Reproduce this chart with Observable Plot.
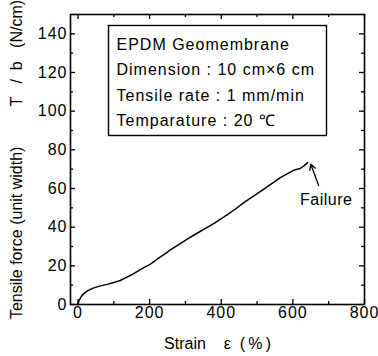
<!DOCTYPE html>
<html><head><meta charset="utf-8">
<script src="https://cdn.jsdelivr.net/npm/d3@7"></script>
<script src="https://cdn.jsdelivr.net/npm/@observablehq/plot@0.6"></script>
<style>
body{margin:0;background:#fff;}
#chart svg{font-family:"Liberation Sans",Arial,sans-serif;}
</style></head><body><div id="chart"></div>
<script>
const strain = [0, 3, 7, 11, 18, 25, 35, 44, 60, 81, 100, 118, 135, 151, 175, 202, 225, 248, 258, 280, 304, 330, 351, 380, 411, 440, 462, 490, 518, 545, 565, 585, 602, 620, 630, 641];
const force  = [0, 2.2, 3.4, 4.6, 5.9, 6.9, 7.8, 8.6, 9.5, 10.4, 11.4, 12.4, 14.0, 15.5, 18.2, 20.9, 24.0, 26.8, 28.3, 30.9, 33.7, 36.6, 38.9, 42.0, 45.7, 49.4, 52.6, 56.0, 59.6, 63.0, 65.6, 67.7, 69.4, 70.3, 71.6, 73.4];
const xMajor = [0, 200, 400, 600, 800];
const xMinor = [100, 300, 500, 700];
const yMajor = [0, 20, 40, 60, 80, 100, 120, 140];
const yMinor = [10, 30, 50, 70, 90, 110, 130];
const boxLines = ["EPDM Geomembrane", "Dimension : 10 cm\u00d76 cm", "Tensile rate : 1 mm/min", "Temparature : 20 \u2103"];
const failureLabel = "Failure";
const nb = n => "\u00a0".repeat(n);
const xLabel = "Strain" + nb(4) + "\u03b5" + nb(2) + "(\u2009%\u2009)";
const yLabel = "Tensile force (unit width)" + nb(9) + "T" + nb(3) + "/" + nb(2) + "b" + nb(3) + "(N/cm)";

const curve = strain.map((s, i) => ({strain: s, force: force[i]}));

const W = 378, H = 356, ML = 70, MR = 14, MT = 14, MB = 52;
const xDomain = [-21, 800], yDomain = [0, 150];
const fw = W - ML - MR, fh = H - MT - MB;
// tick lengths given in pixels, converted to data units of each scale
const dxPx = px => px * (xDomain[1] - xDomain[0]) / fw;
const dyPx = px => px * (yDomain[1] - yDomain[0]) / fh;
const tickStyle = {stroke: "#000", strokeWidth: 1.3};
const xTicks = (vals, len) => [
  Plot.ruleX(vals, {x: d => d, y1: yDomain[0], y2: yDomain[0] + dyPx(len), ...tickStyle}),
  Plot.ruleX(vals, {x: d => d, y1: yDomain[1], y2: yDomain[1] - dyPx(len), ...tickStyle})
];
const yTicks = (vals, len) => [
  Plot.ruleY(vals, {y: d => d, x1: xDomain[0], x2: xDomain[0] + dxPx(len), ...tickStyle}),
  Plot.ruleY(vals, {y: d => d, x1: xDomain[1], x2: xDomain[1] - dxPx(len), ...tickStyle})
];

const chart = Plot.plot({
  width: W,
  height: H,
  marginLeft: ML,
  marginRight: MR,
  marginTop: MT,
  marginBottom: MB,
  style: {fontSize: "16px", fontFamily: "'Liberation Sans', Arial, sans-serif", color: "#000", background: "#fff"},
  x: {domain: xDomain},
  y: {domain: yDomain},
  marks: [
    Plot.axisX(xMajor, {anchor: "bottom", tickSize: 0, tickPadding: 2, label: xLabel, labelAnchor: "center", labelOffset: 44, labelArrow: "none", fontSize: 16}),
    Plot.axisY(yMajor, {anchor: "left", tickSize: 0, tickPadding: 3, label: yLabel, labelAnchor: "center", labelOffset: 60, labelArrow: "none", fontSize: 16}),
    Plot.frame({stroke: "#000", strokeWidth: 1.6}),
    Plot.frame({stroke: "#000", strokeWidth: 1.4, insetLeft: 38, insetTop: 11, insetRight: 38, insetBottom: 169}),
    Plot.text([boxLines.join("\n")], {frameAnchor: "top-left", dx: 46, dy: 17, lineAnchor: "top", textAnchor: "start", lineHeight: 1.6, fontSize: 16, fill: "#000"}),
    Plot.line(curve, {x: "strain", y: "force", stroke: "#000", strokeWidth: 1.5, curve: "linear"}),
    Plot.arrow([{x1: 672, y1: 61.5, x2: 650, y2: 72.5}], {x1: "x1", y1: "y1", x2: "x2", y2: "y2", stroke: "#000", strokeWidth: 1.3, headLength: 7}),
    Plot.text([failureLabel], {x: 620, y: 54, textAnchor: "start", fontSize: 16, fill: "#000"}),
    ...xTicks(xMajor, 5),
    ...xTicks(xMinor, 3),
    ...yTicks(yMajor, 5),
    ...yTicks(yMinor, 3)
  ]
});
// letter spacing to match the wide lettering of the original
const sel = d3.select(chart);
sel.selectAll("g").filter(function () {
  const a = this.getAttribute("aria-label") || "";
  return a.includes("tick label");
}).selectAll("text").style("letter-spacing", "1px");
const textGroups = sel.selectAll("g[aria-label='text']").nodes();
if (textGroups[0]) d3.select(textGroups[0]).selectAll("text, tspan").style("letter-spacing", "1px");
if (textGroups[1]) d3.select(textGroups[1]).selectAll("text").style("letter-spacing", "0.5px");
document.getElementById("chart").append(chart);
</script></body></html>
